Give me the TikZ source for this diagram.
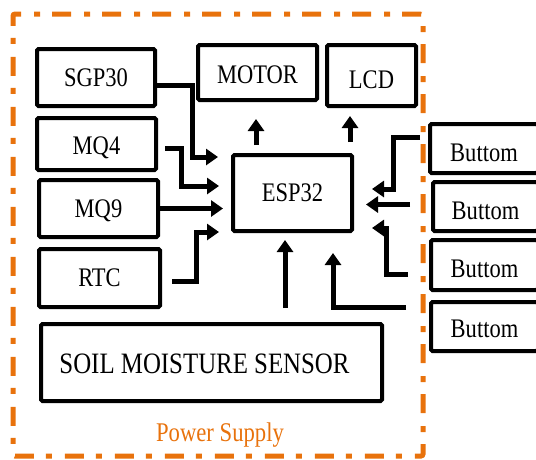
\documentclass[tikz,border=0pt]{standalone}
\usepackage{fontspec}
\setmainfont{Liberation Serif}
\usetikzlibrary{arrows.meta}
\definecolor{psorange}{RGB}{232,114,12}
\newcommand\nrw[1]{\scalebox{0.84}[1]{#1}}
\begin{document}
\begin{tikzpicture}[x=1pt,y=-1pt,
  box/.style={draw, line width=4pt, rounded corners=1.5pt, inner sep=0pt,
    font=\rmfamily\fontsize{26.8pt}{30pt}\selectfont, text height=17.7pt, text depth=0pt},
  arr/.style={line width=5pt, -{Triangle[length=12pt,width=16pt]}},
  frame/.style={draw=psorange, line width=5pt, rounded corners=2pt,
    dash pattern=on 19pt off 12pt on 6pt off 13pt, inner sep=0pt}]
\useasboundingbox (0,0) rectangle (536,459);
\clip (0,0) rectangle (536,459);
\node[frame, minimum width=410pt, minimum height=442pt] (ps) at (218,235) {};
\node[text=psorange, font=\rmfamily\fontsize{27pt}{30pt}\selectfont, anchor=base] (pstxt) at (220,441) {\nrw{Power Supply}};
% boxes
\node[box, minimum width=118pt, minimum height=57pt] (sgp) at (96,77.5) {\nrw{SGP30}};
\node[box, minimum width=119pt, minimum height=52pt, text height=21.7pt] (mq4) at (96.5,144) {\nrw{MQ4}};
\node[box, minimum width=119pt, minimum height=57pt] (mq9) at (98.5,208.5) {\nrw{MQ9}};
\node[box, minimum width=121pt, minimum height=58pt] (rtc) at (99.5,278) {\nrw{RTC}};
\node[box, minimum width=341pt, minimum height=77pt] (soil) at (211.5,362.5) {};
\node[font=\rmfamily\fontsize{29.6pt}{32pt}\selectfont, inner sep=0pt, anchor=base] (soiltxt) at (204.5,373.5) {\nrw{SOIL MOISTURE SENSOR}};
\node[box, minimum width=119pt, minimum height=55pt, text height=21.7pt] (motor) at (257.5,72.5) {\nrw{MOTOR}};
\node[box, minimum width=89pt, minimum height=61pt, text height=26.7pt] (lcd) at (371.5,75.5) {\nrw{LCD}};
\node[box, minimum width=119pt, minimum height=76pt] (esp) at (292.5,193) {\nrw{ESP32}};
\node[box, minimum width=108pt, minimum height=49pt, text height=25.7pt] (b1) at (484,148.5) {\nrw{Buttom}};
\node[box, minimum width=105pt, minimum height=49pt, text height=26.7pt] (b2) at (485.5,206.5) {\nrw{Buttom}};
\node[box, minimum width=107pt, minimum height=50pt, text height=24.7pt] (b3) at (484.5,265) {\nrw{Buttom}};
\node[box, minimum width=107pt, minimum height=49pt, text height=22.7pt] (b4) at (484.5,326.5) {\nrw{Buttom}};
% arrows into ESP32 from left
\draw[arr] ([yshift=-7.5pt]sgp.east) -- ++(35,0) |- ([xshift=-13pt,yshift=36pt]esp.west);
\draw[arr] ([xshift=7pt,yshift=-4pt]mq4.east) -- ++(16,0) |- ([xshift=-12pt,yshift=7pt]esp.west);
\draw[arr] (mq9.east) -- ([xshift=-8pt]esp.west |- mq9.east);
\draw[arr] ([xshift=10pt,yshift=-3pt]rtc.east) -- ++(24,0) |- ([xshift=-12pt,yshift=-39pt]esp.west);
% outputs
\draw[arr] ([xshift=-36.5pt,yshift=8pt]esp.north) -- ++(0,-26);
\draw[arr] ([xshift=57.5pt,yshift=11pt]esp.north) -- ++(0,-26);
% from bottom
\draw[arr] ([xshift=73.5pt,yshift=14pt]soil.north) -- ++(0,-68);
\draw[arr] ([xshift=-23pt,yshift=19.5pt]b4.west) -- ++(-73,0) -- ++(0,-54);
% buttons
\draw[arr] ([xshift=-8pt,yshift=11.5pt]b1.west) -- ++(-27,0) |- ([xshift=18pt,yshift=4pt]esp.east);
\draw[arr] ([xshift=-21pt,yshift=2pt]b2.west) -- ++(-44,0);
\draw[arr] ([xshift=-21pt,yshift=-9pt]b3.west) -- ++(-22,0) |- ([xshift=18pt,yshift=-35pt]esp.east);
\end{tikzpicture}
\end{document}
